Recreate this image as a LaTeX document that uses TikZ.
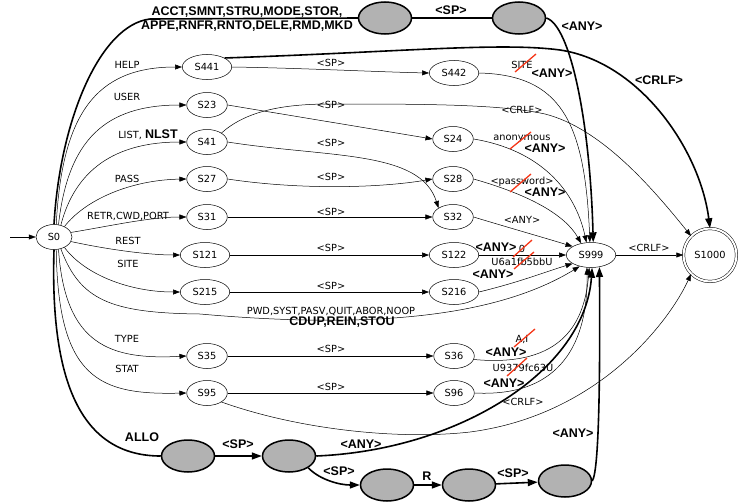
\documentclass[tikz,border=0pt]{standalone}
\usepackage{fontspec}
\setmainfont{DejaVu Sans}
\newfontfamily\helvb{Liberation Sans}
\usetikzlibrary{arrows.meta,shapes.geometric}
\definecolor{strikered}{RGB}{245,55,25}
\newcommand{\thinfont}{\fontsize{9.8}{11}\selectfont}
\newcommand{\boldfont}{\helvb\bfseries\fontsize{12.5}{14}\selectfont}

\begin{document}
\begin{tikzpicture}[x=1pt, y=-1pt,
    fsm/.style={draw, ellipse, line width=0.5pt, font=\thinfont, inner xsep=5pt, inner ysep=2pt, minimum width=36pt, minimum height=25pt},
    gstate/.style={draw, ellipse, line width=1.5pt, fill=gray!60, minimum width=53pt, minimum height=32pt},
    accept/.style={draw, circle, double, double distance=2pt, line width=0.5pt, font=\thinfont, minimum size=53pt},
    arrow/.style={-{Triangle[length=7pt,width=5pt]}, line width=0.5pt},
    barrow/.style={-{Triangle[length=10pt,width=7pt]}, line width=1.6pt},
    bline/.style={line width=1.6pt},
    lbl/.style={font=\thinfont, inner sep=0pt},
    blbl/.style={font=\boldfont, inner sep=0pt},
    cut/.style={strikered, line width=1.3pt}
]
\useasboundingbox (0,0) rectangle (738,503);

\node[fsm] (S0) at (54,237) {S0};
\node[fsm] (S441) at (207,67) {S441};
\node[fsm] (S23) at (207,105) {S23};
\node[fsm] (S41) at (207,142) {S41};
\node[fsm] (S27) at (207,179) {S27};
\node[fsm] (S31) at (207,217) {S31};
\node[fsm] (S121) at (205,255) {S121};
\node[fsm] (S215) at (205,292) {S215};
\node[fsm] (S35) at (207,356) {S35};
\node[fsm] (S95) at (207,393) {S95};
\node[fsm] (S442) at (454,73) {S442};
\node[fsm] (S24) at (453,139) {S24};
\node[fsm] (S28) at (453,179) {S28};
\node[fsm] (S32) at (453,217) {S32};
\node[fsm] (S122) at (454,255) {S122};
\node[fsm] (S216) at (454,292) {S216};
\node[fsm] (S36) at (454,356) {S36};
\node[fsm] (S96) at (454,393) {S96};
\node[fsm] (S999) at (591,255) {S999};
\node[accept] (S1000) at (710,255) {S1000};
\node[gstate] (acctA) at (385,18) {};
\node[gstate] (acctB) at (519,18) {};
\node[gstate] (alloA) at (188,456) {};
\node[gstate] (alloB) at (289,456) {};
\node[gstate] (alloC) at (387,485) {};
\node[gstate] (alloD) at (469,485) {};
\node[gstate] (alloE) at (565,481) {};
\coordinate (entry) at (10,237);

\draw[arrow] (entry) -- (S0);
\draw[arrow] (S0.80) .. controls (62,115) and (95,67) .. (S441.west);
\draw[arrow] (S0.70) .. controls (68,140) and (105,105) .. (S23.west);
\draw[arrow] (S0.60) .. controls (75,170) and (115,142) .. (S41.west);
\draw[arrow] (S0.45) .. controls (85,200) and (130,180) .. (S27.west);
\draw[arrow] (S0.15) .. controls (110,226) and (150,217) .. (S31.west);
\draw[arrow] (S0.-15) .. controls (110,250) and (150,255) .. (S121.west);
\draw[arrow] (S0.-45) .. controls (85,275) and (130,292) .. (S215.west);
\draw[arrow] (S0.-60) .. controls (80,300) and (110,313) .. (200,314) .. controls (380,330) and (500,315) .. (S999.225);
\draw[arrow] (S0.-70) .. controls (65,345) and (110,360) .. (S35.west);
\draw[arrow] (S0.-80) .. controls (58,380) and (100,395) .. (S95.west);
\draw[bline] (S0.north) .. controls (60,120) and (100,25) .. (150,19) -- (acctA.west);
\draw[bline] (S0.south) .. controls (50,380) and (80,456) .. (alloA.west);

\draw[arrow] (S441.east) .. controls (300,68) and (380,72) .. (S442.west);
\draw[barrow] (S441.north east) .. controls (400,52) and (500,42) .. (560,50) .. controls (640,62) and (700,150) .. (S1000.north);
\draw[arrow] (S23.east) -- (S24.west);
\draw[arrow] (S41.north east) .. controls (245,112) and (280,104) .. (330,104) .. controls (420,104) and (500,104) .. (545,114) .. controls (600,128) and (650,185) .. (S1000.north west);
\draw[arrow] (S41.east) .. controls (330,158) and (420,150) .. (S32.north west);
\draw[arrow] (S27.east) .. controls (300,190) and (380,188) .. (S28.west);
\draw[arrow] (S31) -- (S32);
\draw[arrow] (S121) -- (S122);
\draw[arrow] (S215) -- (S216);
\draw[arrow] (S35) -- (S36);
\draw[arrow] (S95) -- (S96);
\draw[arrow] (S95.south east) .. controls (300,430) and (400,440) .. (470,432) .. controls (600,415) and (670,320) .. (S1000.south west);

\draw[arrow] (S442.east) .. controls (560,75) and (585,120) .. (S999.95);
\draw[arrow] (S24.east) .. controls (540,150) and (575,190) .. (S999.110);
\draw[arrow] (S28.east) .. controls (530,195) and (565,215) .. (S999.130);
\draw[arrow] (S32.east) .. controls (510,228) and (545,238) .. (S999.155);
\draw[arrow] (S122) -- (S999);
\draw[arrow] (S216.east) .. controls (520,282) and (545,272) .. (S999.205);
\draw[arrow] (S36.-10) .. controls (565,368) and (585,320) .. (S999.262);
\draw[arrow] (S96.east) .. controls (570,398) and (588,330) .. (S999.252);
\draw[arrow] (S999) -- (S1000);

\draw[bline] (acctA) -- (acctB);
\draw[barrow] (acctB.east) .. controls (570,25) and (590,120) .. (S999.80);
\draw[barrow] (alloA) -- (alloB);
\draw[barrow] (alloB.east) .. controls (460,450) and (585,370) .. (S999.275);
\draw[barrow] (alloB.south east) .. controls (320,480) and (340,485) .. (alloC.west);
\draw[barrow] (alloC) -- (alloD);
\draw[barrow] (alloD) -- (alloE);
\draw[barrow] (alloE.east) .. controls (600,470) and (600,350) .. (S999.305);

\node[lbl] (lhelp) at (127,65) {HELP};
\node[lbl] (luser) at (127,97) {USER};
\node[lbl] (llist) at (148,135) {LIST, {\boldfont NLST}};
\node[lbl] (lpass) at (127,179) {PASS};
\node[lbl] (lretr) at (128,216) {RETR,CWD,PORT};
\node[lbl] (lrest) at (128,241) {REST};
\node[lbl] (lsite) at (128,264) {SITE};
\node[lbl] (ltype) at (127,339) {TYPE};
\node[lbl] (lstat) at (127,369) {STAT};
\node[blbl] (lallo) at (142,437) {ALLO};
\node[blbl, align=center] (lacct) at (247,19) {ACCT,SMNT,STRU,MODE,STOR,\\APPE,RNFR,RNTO,DELE,RMD,MKD};
\node[lbl] (sp441) at (331,63) {<SP>};
\node[lbl] (sp23) at (331,105) {<SP>};
\node[lbl] (sp41) at (331,143) {<SP>};
\node[lbl] (sp27) at (331,177) {<SP>};
\node[lbl] (sp31) at (331,212) {<SP>};
\node[lbl] (sp121) at (331,248) {<SP>};
\node[lbl] (sp215) at (331,286) {<SP>};
\node[lbl] (sp35) at (331,349) {<SP>};
\node[lbl] (sp95) at (331,387) {<SP>};
\node[lbl] (lpwd) at (331,311) {PWD,SYST,PASV,QUIT,ABOR,NOOP};
\node[blbl] (lcdup) at (342,322) {CDUP,REIN,STOU};
\node[blbl] (spacct) at (451,10) {<SP>};
\node[blbl] (anyacct) at (582,26) {<ANY>};
\node[blbl] (crlf441) at (659,80) {<CRLF>};
\node[lbl] (lsite442) at (522,65) {SITE};
\node[blbl] (any442) at (552,73) {<ANY>};
\node[lbl] (crlf41) at (522,110) {<CRLF>};
\node[lbl] (lanon) at (522,139) {anonymous};
\node[blbl] (any24) at (545,148) {<ANY>};
\node[lbl] (lpassw) at (522,182) {<password>};
\node[blbl] (any28) at (545,192) {<ANY>};
\node[lbl] (any32) at (522,220) {<ANY>};
\node[lbl] (lzero) at (522,249) {0};
\node[blbl] (any122) at (496,247) {<ANY>};
\node[lbl] (lu6) at (522,262) {U6a1fb5bbU};
\node[blbl] (any216) at (493,274) {<ANY>};
\node[lbl] (crlf999) at (649,248) {<CRLF>};
\node[lbl] (lai) at (522,339) {A,I};
\node[blbl] (any36) at (506,352) {<ANY>};
\node[lbl] (lu9) at (523,368) {U9379fc63U};
\node[blbl] (any96) at (504,383) {<ANY>};
\node[lbl] (crlf95) at (523,402) {<CRLF>};
\node[blbl] (spalloA) at (238,444) {<SP>};
\node[blbl] (anyalloB) at (361,444) {<ANY>};
\node[blbl] (spalloB) at (339,471) {<SP>};
\node[blbl] (lr) at (427,476) {R};
\node[blbl] (spalloD) at (513,473) {<SP>};
\node[blbl] (anyalloE) at (573,433) {<ANY>};

\draw[cut] (515,72) -- (536,54);
\draw[cut] (510,149) -- (531,132);
\draw[cut] (510,192) -- (531,174);
\draw[cut] (513,257) -- (532,240);
\draw[cut] (514,269) -- (534,252);
\draw[cut] (514,347) -- (535,329);
\draw[cut] (507,376) -- (527,358);
\end{tikzpicture}
\end{document}
